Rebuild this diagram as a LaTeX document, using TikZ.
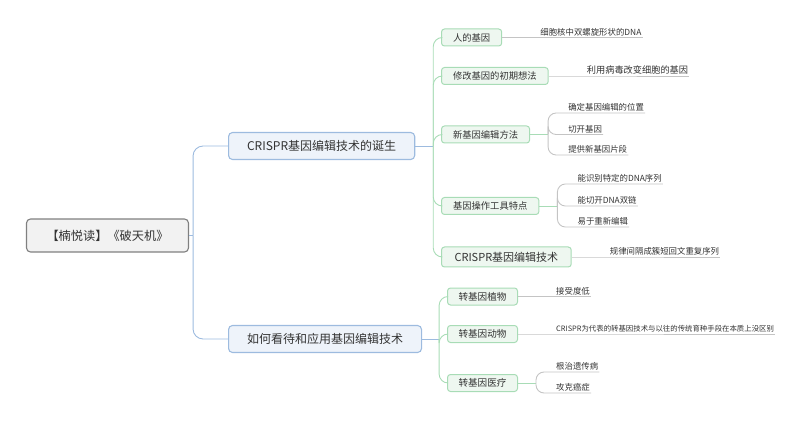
\documentclass[tikz,border=0pt]{standalone}
\usepackage{fontspec}
\setmainfont{Noto Sans CJK SC}
\usepackage{tikz}
\usetikzlibrary{calc}

\definecolor{ink}{HTML}{333333}
\definecolor{rootfill}{HTML}{F2F2F2}
\definecolor{rootline}{HTML}{808080}
\definecolor{mainfill}{HTML}{EEF3FA}
\definecolor{mainline}{HTML}{9DBBDF}
\definecolor{leaffill}{HTML}{EEF7F0}
\definecolor{leafline}{HTML}{A8DCB6}
\definecolor{twig}{HTML}{C4C4C4}

\begin{document}
\begin{tikzpicture}[x=1pt,y=-1pt,
  root/.style={draw=rootline, fill=rootfill, rounded corners=4pt, line width=1.1pt,
    minimum height=33pt, inner xsep=20pt, text=ink, font=\fontsize{12.2}{14}\selectfont},
  topic/.style={draw=mainline, fill=mainfill, rounded corners=4pt, line width=1.1pt,
    minimum height=27pt, inner xsep=18.5pt, anchor=west, text=ink, font=\fontsize{12}{14}\selectfont},
  leaf/.style={draw=leafline, fill=leaffill, rounded corners=3pt, line width=1pt,
    minimum height=17pt, inner xsep=11.5pt, inner ysep=1pt, anchor=west, text=ink,
    font=\fontsize{9.3}{11}\selectfont},
  twigtext/.style={anchor=south west, inner xsep=1pt, inner ysep=1.2pt, text=ink,
    font=\fontsize{8.4}{10}\selectfont},
  bluelink/.style={draw=mainline, line width=0.9pt},
  greenlink/.style={draw=leafline, line width=0.9pt},
  twiglink/.style={draw=twig, line width=0.9pt},
]
  \useasboundingbox (0,0) rectangle (800,446);

  \node[root] (root) at (107.5,235.5) {【楠悦读】《破天机》};
  \node[topic] (b1) at (228,146) {CRISPR基因编辑技术的诞生};
  \node[topic] (b2) at (228,339) {如何看待和应用基因编辑技术};

  \coordinate (t0) at ($(root.east)+(4,0)$);
  \draw[bluelink] (root.east) -- (t0);
  \draw[bluelink, rounded corners=10pt] (t0) |- (b1.west);
  \draw[bluelink, rounded corners=10pt] (t0) |- (b2.west);

  \node[leaf] (l1) at (441,37.5) {人的基因};
  \node[leaf] (l2) at (441,76) {修改基因的初期想法};
  \node[leaf] (l3) at (441,134.5) {新基因编辑方法};
  \node[leaf] (l4) at (441,206) {基因操作工具特点};
  \node[leaf, minimum height=20pt, inner xsep=13pt, font=\fontsize{11}{13}\selectfont] (l5) at (441,257) {CRISPR基因编辑技术};

  \coordinate (t1) at ($(b1.east)+(18,0)$);
  \draw[bluelink] (b1.east) -- (t1);
  \foreach \n in {l1,l2,l3,l4,l5}
    \draw[greenlink, rounded corners=9pt] (t1) |- (\n.west);

  \node[leaf, inner xsep=11pt, font=\fontsize{9.6}{11}\selectfont] (m1) at (447,296.5) {转基因植物};
  \node[leaf, inner xsep=11pt, font=\fontsize{9.6}{11}\selectfont] (m2) at (447,334) {转基因动物};
  \node[leaf, inner xsep=11pt, font=\fontsize{9.6}{11}\selectfont] (m3) at (447,383) {转基因医疗};

  \coordinate (t2) at ($(b2.east)+(17,0)$);
  \draw[bluelink] (b2.east) -- (t2);
  \foreach \n in {m1,m2,m3}
    \draw[greenlink, rounded corners=9pt] (t2) |- (\n.west);

  \node[twigtext] (s1) at ($(l1.east)+(37,0)$) {细胞核中双螺旋形状的DNA};
  \node[twigtext, font=\fontsize{9.2}{11}\selectfont] (s2) at ($(l2.east)+(37,0)$) {利用病毒改变细胞的基因};
  \node[twigtext] (s3a) at ($(l3.east)+(37,-21.5)$) {确定基因编辑的位置};
  \node[twigtext] (s3b) at ($(l3.east)+(37,0)$) {切开基因};
  \node[twigtext] (s3c) at ($(l3.east)+(37,20.5)$) {提供新基因片段};
  \node[twigtext] (s4a) at ($(l4.east)+(37,-22)$) {能识别特定的DNA序列};
  \node[twigtext] (s4b) at ($(l4.east)+(37,0)$) {能切开DNA双链};
  \node[twigtext] (s4c) at ($(l4.east)+(37,21)$) {易于重新编辑};
  \node[twigtext] (s5) at ($(l5.east)+(37,0)$) {规律间隔成簇短回文重复序列};
  \node[twigtext] (n1) at ($(m1.east)+(37,0)$) {接受度低};
  \node[twigtext, font=\fontsize{7.4}{9}\selectfont] (n2) at ($(m2.east)+(37,0)$) {CRISPR为代表的转基因技术与以往的传统育种手段在本质上没区别};
  \node[twigtext] (n3a) at ($(m3.east)+(37,-11)$) {根治遗传病};
  \node[twigtext] (n3b) at ($(m3.east)+(37,10)$) {攻克癌症};

  \foreach \a/\b in {l1/s1,l2/s2,l5/s5,m1/n1,m2/n2}
    \draw[twiglink] (\a.east) -- (\b.south west) -- (\b.south east);

  \coordinate (j3) at ($(l3.east)+(18,0)$);
  \coordinate (j4) at ($(l4.east)+(18,0)$);
  \coordinate (j6) at ($(m3.east)+(18,0)$);
  \draw[greenlink] (l3.east) -- (j3);
  \draw[greenlink] (l4.east) -- (j4);
  \draw[greenlink] (m3.east) -- (j6);
  \foreach \j/\b in {j3/s3a,j3/s3b,j3/s3c,j4/s4a,j4/s4b,j4/s4c,j6/n3a,j6/n3b}
    \draw[twiglink, rounded corners=8pt] (\j) |- (\b.south west) -- (\b.south east);
\end{tikzpicture}
\end{document}
